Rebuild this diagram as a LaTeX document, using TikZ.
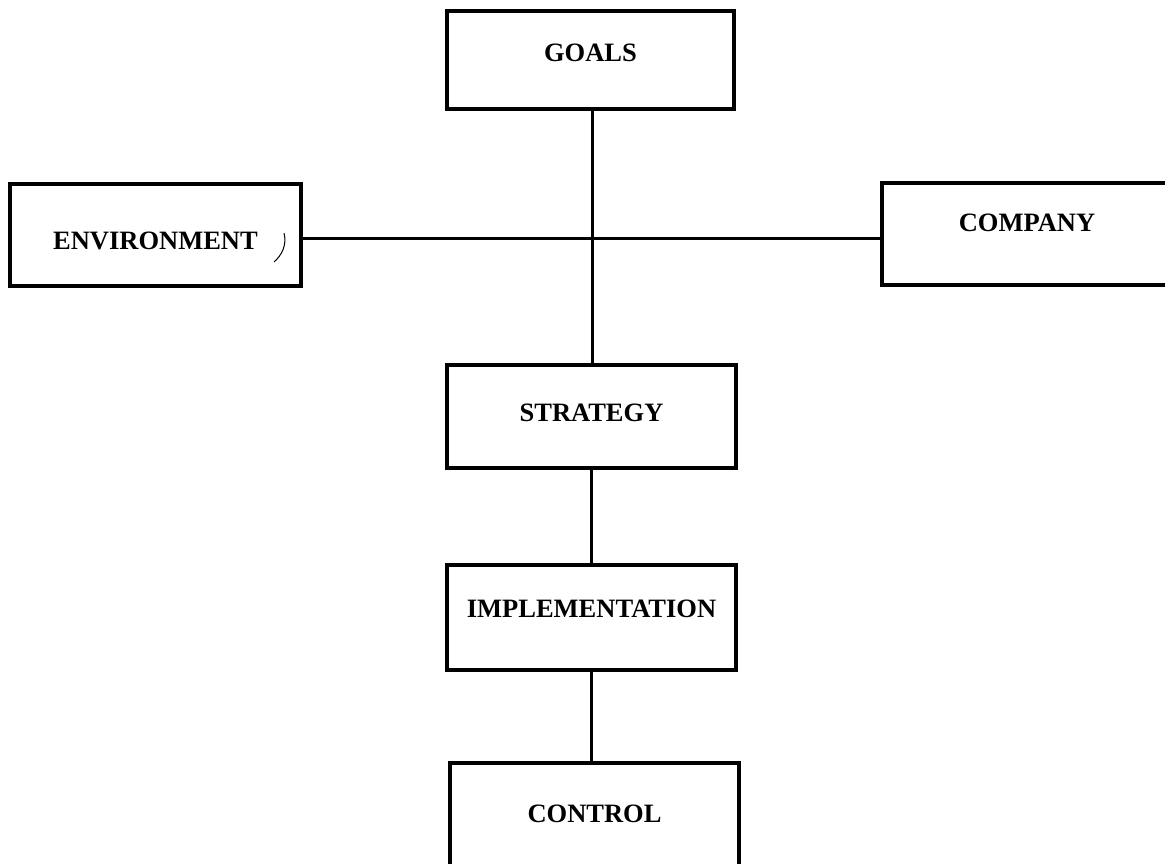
\documentclass[tikz,border=0pt]{standalone}
\usepackage{fontspec}
\setmainfont{Liberation Serif}
\begin{document}
\begin{tikzpicture}[x=1pt,y=-1pt,
  box/.style={draw, line width=3.4pt, inner sep=0pt,
    font=\fontsize{26.5}{30}\selectfont\bfseries},
  link/.style={line width=3pt}]
\useasboundingbox (0,0) rectangle (1165,864);
\clip (0,0) rectangle (1165,864);

% boxes (text nudged inside each box with a fixed-size raisebox)
\node[box, minimum width=287pt, minimum height=98pt]  (goals) at (590.5,60)
  {\raisebox{7pt}[\height][\depth]{GOALS}};
\node[box, minimum width=291pt, minimum height=102pt] (env)   at (155.5,235)
  {\raisebox{-6pt}[\height][\depth]{ENVIRONMENT}\hspace{47pt}};
\node[box, minimum width=290pt, minimum height=102pt] (comp)  at (1027,234)
  {\raisebox{11pt}[\height][\depth]{COMPANY}};
\node[box, minimum width=289pt, minimum height=103pt] (strat) at (591.5,416.5)
  {\raisebox{4pt}[\height][\depth]{STRATEGY}};
\node[box, minimum width=289pt, minimum height=105pt] (impl)  at (591.5,617.5)
  {\raisebox{9pt}[\height][\depth]{IMPLEMENTATION}};
\node[box, minimum width=289pt, minimum height=107pt] (ctrl)  at (594.5,816.5)
  {\raisebox{3pt}[\height][\depth]{CONTROL}};

% small pen stroke after ENVIRONMENT
\draw[line width=1pt] (284,233) .. controls (287,245) and (282,255) .. (274,262);

% connectors
\draw[link] ([xshift=1.5pt]goals.south) -- ([xshift=1.5pt]goals.south |- strat.north);
\draw[link] ([yshift=-3pt]env.east) -- ([yshift=-3pt]env.east -| comp.west);
\draw[link] (strat.south) -- (impl.north);
\draw[link] (impl.south) -- (impl.south |- ctrl.north);
\end{tikzpicture}
\end{document}
